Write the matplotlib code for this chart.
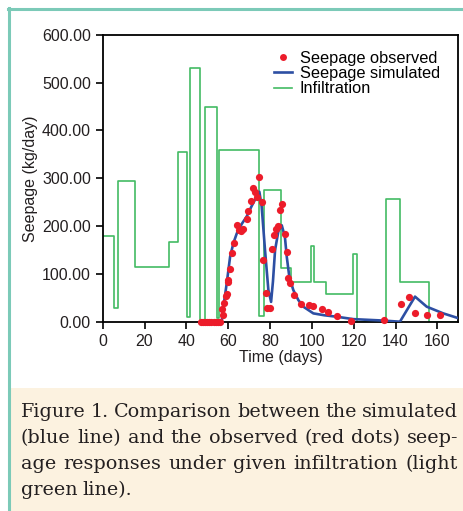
"""Seepage observed vs simulated, with the infiltration steps, plus the figure caption."""
import matplotlib
matplotlib.use('Agg')
from matplotlib import pyplot
from matplotlib.lines import Line2D
from matplotlib.patches import Rectangle

# infiltration (kg/day), step function: value holds from each start day to the next
infil_days = [0, 5.5, 7.5, 15.5, 31.5, 36.2, 40.5, 41.5, 46.7, 48.7, 54.7, 55.7,
              74.6, 77.2, 85.2, 89.9, 99.4, 100.9, 106.6, 119.6, 121.7, 135.4,
              142.1, 156.1, 170]
infil_vals = [180, 30, 295, 115, 168, 355, 10, 530, 0, 450, 8, 360,
              13, 276, 113, 83, 158, 83, 58, 141, 0, 256,
              83, 0, 0]

# simulated seepage (blue line)
sim_days = [56, 56.9, 57.7, 59.3, 60.9, 62.5, 64.1, 66.5, 68.8, 71.2, 73.6, 74.9,
            76.0, 77.6, 79.2, 80.5, 81.4, 82.4, 84.0, 85.6, 87.1, 88.0, 89.2,
            91.1, 93.5, 95.9, 100.7, 106, 111.9, 119.8, 134.1, 142.1, 149.3,
            154.9, 162.8, 170]
sim_vals = [0, 0, 32, 81, 136, 165, 185, 205, 220, 242, 262, 272,
            241, 150, 67, 42, 85, 150, 190, 202, 178, 136, 95,
            67, 46, 32, 18, 14, 11, 6, 3, 0.6, 53,
            32, 18, 8]

# observed seepage (red dots)
obs_days = [47, 48, 49, 50, 51, 52, 53, 54, 55, 56,
            56.9, 57.7, 58.1, 58.9, 59.3, 59.8, 60.1, 61.0, 62.0, 63.0,
            64.3, 65.2, 66.2, 67.3, 68.8, 69.5, 70.9, 71.9, 72.9, 73.9,
            74.8, 76.0, 76.7, 77.9, 78.6, 80.0, 80.8, 81.9, 82.8, 83.6,
            84.8, 85.5, 87.2, 88.0, 88.8, 89.6, 91.5, 94.6, 98.8, 100.7,
            104.7, 107.8, 111.9, 118.5, 134.6, 142.4, 146.6, 149.3, 155.2, 161.2]
obs_vals = [0, 0, 0, 0, 0, 0, 0, 0, 0, 0,
            28, 15, 40, 55, 58, 84, 88, 110, 145, 166,
            203, 193, 191, 194, 216, 231, 253, 279, 272, 262,
            302, 251, 129, 60, 29, 29, 152, 182, 194, 200,
            234, 246, 184, 147, 91, 81, 56, 38, 35, 33,
            28, 21, 13, 3, 4, 38, 53, 19, 15, 15]

x_ticks = [0, 20, 40, 60, 80, 100, 120, 140, 160]
y_ticks = [0, 100, 200, 300, 400, 500, 600]

caption_lines = ["Figure 1. Comparison between the simulated",
                 "(blue line) and the observed (red dots) seep-",
                 "age responses under given infiltration (light",
                 "green line)."]

W, H = 464, 511
pyplot.rcParams['font.family'] = ['Liberation Sans', 'DejaVu Sans']
figure = pyplot.figure(figsize=(W / 100, H / 100), dpi=100)

green = '#43bb63'
blue = '#2d4fa3'
red = '#ec1c2a'
ink = '#231f20'

axes = figure.add_axes([102.7 / W, 1 - 322 / H, 355.6 / W, 287.3 / H])
axes.step(infil_days, infil_vals, where='post', color=green, lw=1.2,
          label='Infiltration', zorder=2)
axes.plot(sim_days, sim_vals, color=blue, lw=1.9, label='Seepage simulated', zorder=3)
axes.plot(obs_days, obs_vals, 'o', color=red, ms=5.2, mew=0,
          label='Seepage observed', zorder=4, clip_on=False)

axes.set_xlim(0, 170)
axes.set_ylim(0, 600)
axes.set_xticks(x_ticks)
axes.set_yticks(y_ticks)
axes.set_yticklabels(['%.2f' % v for v in y_ticks])
axes.tick_params(direction='out', length=5, width=1.2, labelsize=11.5,
                 colors='black', labelcolor=ink)
for s in axes.spines.values():
    s.set_linewidth(1.3)
axes.set_xlabel('Time (days)', fontsize=11.5, color=ink, labelpad=1)
axes.set_ylabel('Seepage (kg/day)', fontsize=11.5, color=ink, labelpad=3)

handles = [Line2D([], [], ls='none', marker='o', color=red, ms=5, mew=0),
           Line2D([], [], color=blue, lw=1.9),
           Line2D([], [], color=green, lw=1.2)]
axes.legend(handles, ['Seepage observed', 'Seepage simulated', 'Infiltration'],
            loc='upper left', bbox_to_anchor=(0.483, 0.945), frameon=False,
            fontsize=11.8, borderpad=0, labelspacing=0.03, handlelength=1.1,
            handletextpad=0.45, borderaxespad=0)

# caption band and the teal frame
figure.add_artist(Rectangle((10 / W, 0), (W - 10) / W, 123 / H,
                            transform=figure.transFigure, facecolor='#fcf2e0',
                            edgecolor='none', zorder=0))
figure.add_artist(Line2D([8 / W, 1], [1 - 9 / H, 1 - 9 / H], color='#7ccab8',
                         lw=2.2, transform=figure.transFigure))
figure.add_artist(Line2D([9 / W, 9 / W], [0, 1 - 8 / H], color='#7ccab8',
                         lw=2.2, transform=figure.transFigure))

# caption, justified word by word like the journal layout
renderer = figure.canvas.get_renderer()
left, right = 21, 458
baselines = [417, 443, 469, 495]
for n, line in enumerate(caption_lines):
    words = line.split(' ')
    y = 1 - baselines[n] / H
    texts = [figure.text(0, y, w, fontsize=13.8, family='DejaVu Serif',
                         color=ink, va='baseline') for w in words]
    widths = [t.get_window_extent(renderer).width for t in texts]
    if n < len(caption_lines) - 1:
        gap = (right - left - sum(widths)) / (len(words) - 1)
    else:
        gap = 4.5
    x = left
    for t, w in zip(texts, widths):
        t.set_x(x / W)
        x += w + gap

figure.savefig('out.png', dpi=100)
